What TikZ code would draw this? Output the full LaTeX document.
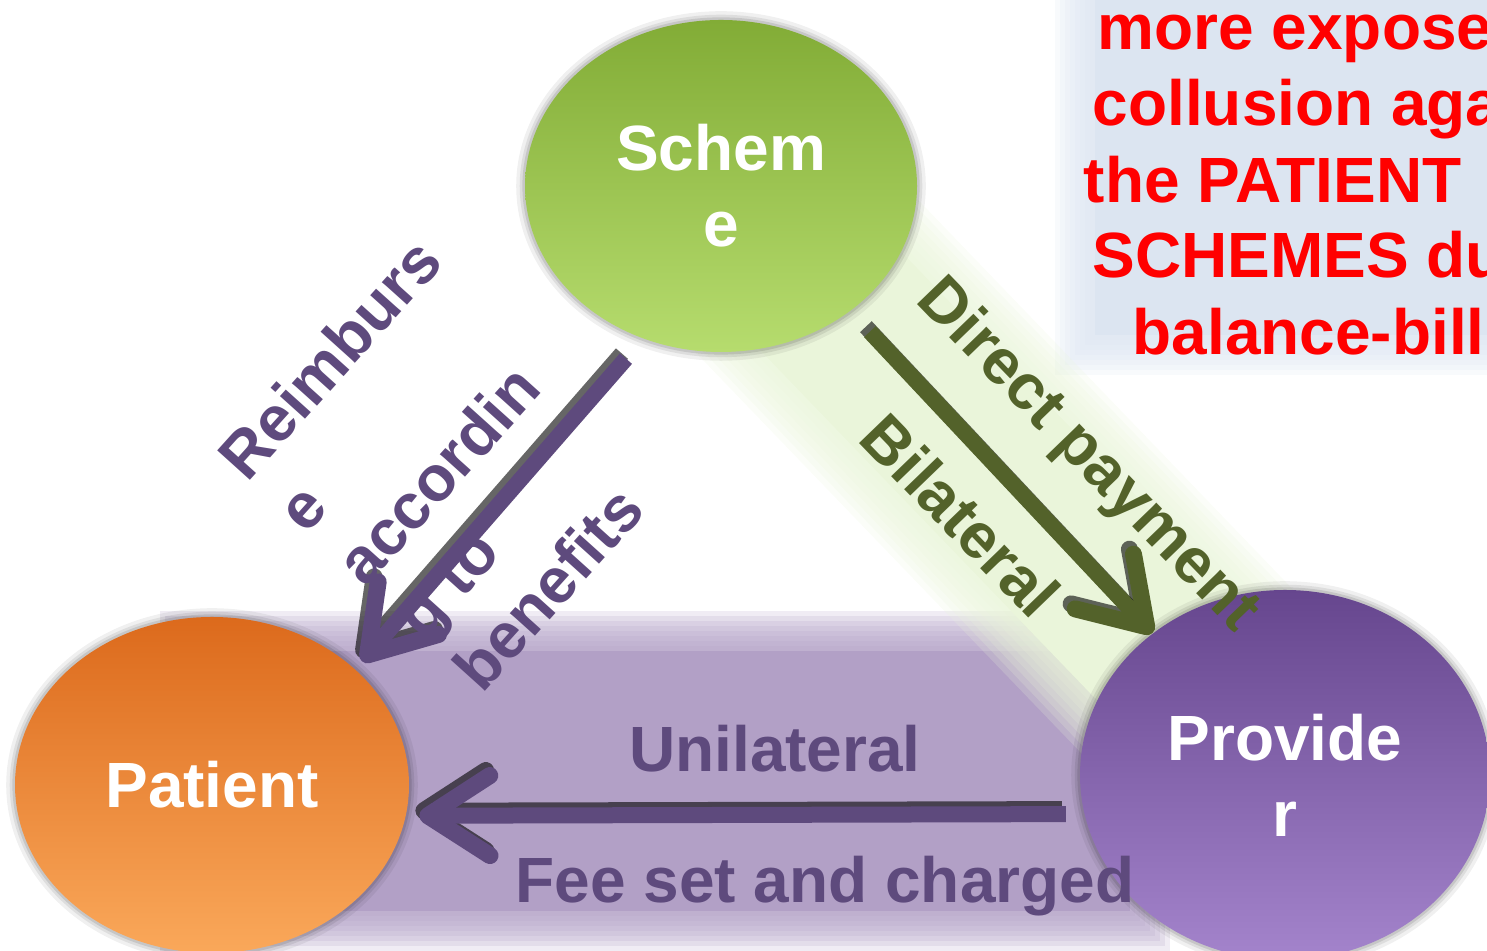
\documentclass[tikz,border=0pt]{standalone}
\usepackage{fontspec}
\setmainfont{Liberation Sans}
\usetikzlibrary{shapes.geometric,arrows.meta}

\definecolor{schemetop}{RGB}{130,172,54}
\definecolor{schemebot}{RGB}{182,220,110}
\definecolor{patienttop}{RGB}{220,106,28}
\definecolor{patientbot}{RGB}{250,168,90}
\definecolor{providertop}{RGB}{102,70,142}
\definecolor{providerbot}{RGB}{164,132,204}
\definecolor{labelpurple}{RGB}{94,74,125}
\definecolor{labelolive}{RGB}{83,98,42}
\definecolor{bandpurple}{RGB}{178,160,198}
\definecolor{bandgreen}{RGB}{234,245,218}
\definecolor{boxblue}{RGB}{220,229,241}

\newcommand{\partyfont}{\bfseries\fontsize{18.2}{21.6}\selectfont}
\newcommand{\flowfont}{\bfseries\fontsize{18.2}{22.5}\selectfont}

\begin{document}
\begin{tikzpicture}[
    party/.style={ellipse, inner sep=0pt, text=white, font=\partyfont, align=center,
        preaction={draw=black, draw opacity=0.06, line width=5pt},
        preaction={draw=black, draw opacity=0.08, line width=3pt},
        preaction={draw=black, draw opacity=0.10, line width=1.5pt}},
    flow/.style={line width=0.16cm, -{Straight Barb[length=0.62cm, width=0.8cm, line width=0.17cm, round]}},
    flowshadow/.style={flow, draw=black, draw opacity=0.6, transform canvas={shift={(-0.04,0.05)}}},
    flowlabel/.style={font=\flowfont, inner sep=0pt},
    notelabel/.style={font=\flowfont, text=red, inner sep=0pt, anchor=base west}
]
    \useasboundingbox (0,0) rectangle (14.87,9.51);
    \clip (0,0) rectangle (14.87,9.51);

    % Soft background panels
    \foreach \i in {1,...,8}
        \fill[boxblue, opacity=0.2] (10.95-\i*0.05,6.16-\i*0.05) rectangle (15,9.7);
    \fill[boxblue] (10.95,6.16) rectangle (15,9.7);

    \foreach \i in {1,...,8}
        \fill[bandpurple, opacity=0.2] (2.0-\i*0.05,0.40-\i*0.05) rectangle (11.3+\i*0.05,3.0+\i*0.05);
    \fill[bandpurple] (2.0,0.40) rectangle (11.3,3.0);

    \begin{scope}[shift={(10.03,4.71)}, rotate=-46.1]
        \foreach \i in {1,...,8}
            \fill[bandgreen, opacity=0.2] (-4.1-\i*0.06,-0.85-\i*0.06) rectangle (4.1+\i*0.06,0.85+\i*0.06);
        \fill[bandgreen] (-4.1,-0.85) rectangle (4.1,0.85);
    \end{scope}

    % Parties
    \node[party, minimum width=3.92cm, minimum height=3.32cm, top color=schemetop, bottom color=schemebot] (scheme) at (7.21,7.65) {Schem\\e};
    \node[party, minimum width=3.94cm, minimum height=3.36cm, top color=patienttop, bottom color=patientbot] (patient) at (2.12,1.66) {Patient};
    \node[party, minimum width=4.10cm, minimum height=3.70cm, top color=providertop, bottom color=providerbot] (provider) at (12.85,1.76) {Provide\\r};

    % Flows
    \draw[flowshadow, shorten <=0.26cm, shorten >=0.1cm] (scheme.243) -- (patient.39);
    \draw[flow, labelpurple, shorten <=0.26cm, shorten >=0.1cm] (scheme.243) -- (patient.39);
    \draw[flowshadow, shorten <=0.28cm] (scheme.-44) -- (provider.133);
    \draw[flow, labelolive, shorten <=0.28cm] (scheme.-44) -- (provider.133);
    \draw[flowshadow, shorten <=0.18cm, shorten >=0.13cm] (provider.191) -- (patient.-9);
    \draw[flow, labelpurple, shorten <=0.18cm, shorten >=0.13cm] (provider.191) -- (patient.-9);

    % Flow labels
    \node[flowlabel, text=labelpurple, rotate=48, align=left] (reimburse) at (4.47,4.87) {Reimburs\\e\\accordin\\g to\\benefits};
    \node[flowlabel, text=labelolive, rotate=-46] (direct) at (10.87,4.95) {Direct payment};
    \node[flowlabel, text=labelolive, rotate=-46] (bilateral) at (9.61,4.36) {Bilateral};
    \node[flowlabel, text=labelpurple, anchor=base] (unilateral) at (7.75,1.79) {Unilateral};
    \node[flowlabel, text=labelpurple, anchor=base] (fee) at (8.25,0.48) {Fee set and charged};

    % Note in red
    \foreach \txt/\x/\y [count=\i] in {more expose/10.97/9.01, collusion aga/10.92/8.25, the PATIENT/10.83/7.48, SCHEMES du/10.92/6.73, balance-billi/11.32/5.96}
        \node[notelabel] (note\i) at (\x,\y) {\txt};
\end{tikzpicture}
\end{document}
